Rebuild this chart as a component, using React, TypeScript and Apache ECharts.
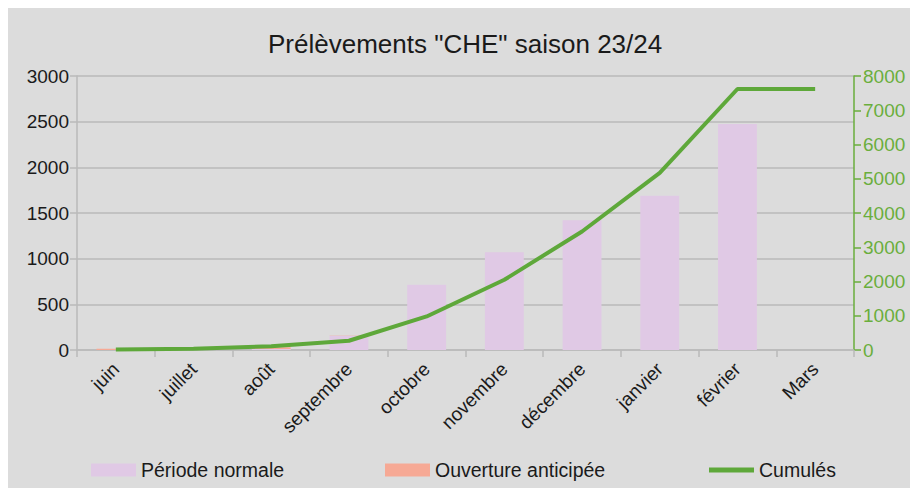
import React, { useEffect, useRef } from "react";
import * as echarts from "echarts";

const months = ["juin", "juillet", "août", "septembre", "octobre", "novembre", "décembre", "janvier", "février", "Mars"];
const periodeNormale = [0, 10, 10, 155, 715, 1070, 1420, 1690, 2475, 0];
const ouvertureAnticipee = [15, 10, 20, 5, 0, 0, 0, 0, 0, 0];
const cumules = [15, 40, 110, 270, 980, 2050, 3460, 5170, 7620, 7620];
const leftTicks = { min: 0, max: 3000, interval: 500 };
const rightTicks = { min: 0, max: 8000, interval: 1000 };

const FONT = "Liberation Sans";
const PINK = "#e0c9e5";
const ORANGE = "#f6a995";
const GREEN = "#5ea83a";
const GREEN_TEXT = "#6aae3c";
const TEXT = "#1a1a1a";
const GRID = "#bababa";

export default function App() {
  const ref = useRef<HTMLDivElement>(null);
  useEffect(() => {
    document.body.style.margin = "0";
    document.body.style.overflow = "hidden";
    if (!ref.current) return;
    const chart = echarts.init(ref.current, undefined, { renderer: "svg" });
    const legendText = { fontFamily: FONT, fontSize: 19.5, color: TEXT };
    const plain = (v: number) => String(v);
    chart.setOption({
      animation: false,
      backgroundColor: "#dcdcdc",
      title: {
        text: 'Prélèvements "CHE" saison 23/24',
        left: 260,
        top: 23,
        padding: 0,
        textStyle: { fontFamily: FONT, fontSize: 26, fontWeight: "normal", color: TEXT },
      },
      legend: [
        {
          data: [{ name: "Période normale", icon: "rect" }],
          left: 83, top: 452, padding: 0, itemWidth: 45, itemHeight: 13,
          textStyle: legendText,
        },
        {
          data: [{ name: "Ouverture anticipée", icon: "rect" }],
          left: 377, top: 452, padding: 0, itemWidth: 45, itemHeight: 13,
          textStyle: legendText,
        },
        {
          data: [{ name: "Cumulés", icon: "rect" }],
          left: 701, top: 452, padding: 0, itemWidth: 45, itemHeight: 5,
          textStyle: legendText,
        },
      ],
      grid: { left: 69, right: 56, top: 68, bottom: 138, containLabel: false },
      xAxis: {
        type: "category",
        data: months,
        boundaryGap: true,
        axisLine: { show: true, lineStyle: { color: GRID, width: 1.5 } },
        axisTick: { show: true, alignWithLabel: false, length: 7, lineStyle: { color: GRID, width: 1.5 } },
        axisLabel: { rotate: 45, margin: 16, fontFamily: FONT, fontSize: 19, color: TEXT, interval: 0 },
        splitLine: { show: false },
      },
      yAxis: [
        {
          type: "value",
          ...leftTicks,
          axisLine: { show: true, lineStyle: { color: GRID, width: 1.5 } },
          axisTick: { show: true, length: 7, lineStyle: { color: GRID, width: 1.5 } },
          axisLabel: { margin: 8, fontFamily: FONT, fontSize: 19, color: TEXT, formatter: plain },
          splitLine: { show: true, lineStyle: { color: GRID, width: 1.5 } },
        },
        {
          type: "value",
          position: "right",
          ...rightTicks,
          axisLine: { show: true, lineStyle: { color: GREEN_TEXT, width: 1.5 } },
          axisTick: { show: true, length: 7, lineStyle: { color: GREEN_TEXT, width: 1.5 } },
          axisLabel: { margin: 9, fontFamily: FONT, fontSize: 19, color: GREEN_TEXT, formatter: plain },
          splitLine: { show: false },
        },
      ],
      series: [
        {
          name: "Période normale",
          type: "bar",
          stack: "p",
          data: periodeNormale,
          barWidth: "50%",
          itemStyle: { color: PINK },
        },
        {
          name: "Ouverture anticipée",
          type: "bar",
          stack: "p",
          data: ouvertureAnticipee,
          barWidth: "50%",
          itemStyle: { color: ORANGE },
        },
        {
          name: "Cumulés",
          type: "line",
          yAxisIndex: 1,
          data: cumules,
          showSymbol: false,
          symbol: "none",
          lineStyle: { color: GREEN, width: 4 },
          itemStyle: { color: GREEN },
          z: 5,
        },
      ],
    });
    return () => chart.dispose();
  }, []);
  return (
    <div style={{ width: 910, height: 488, padding: "8px 0 0 8px", boxSizing: "border-box", background: "#fff" }}>
      <div ref={ref} style={{ width: 902, height: 480 }} />
    </div>
  );
}
